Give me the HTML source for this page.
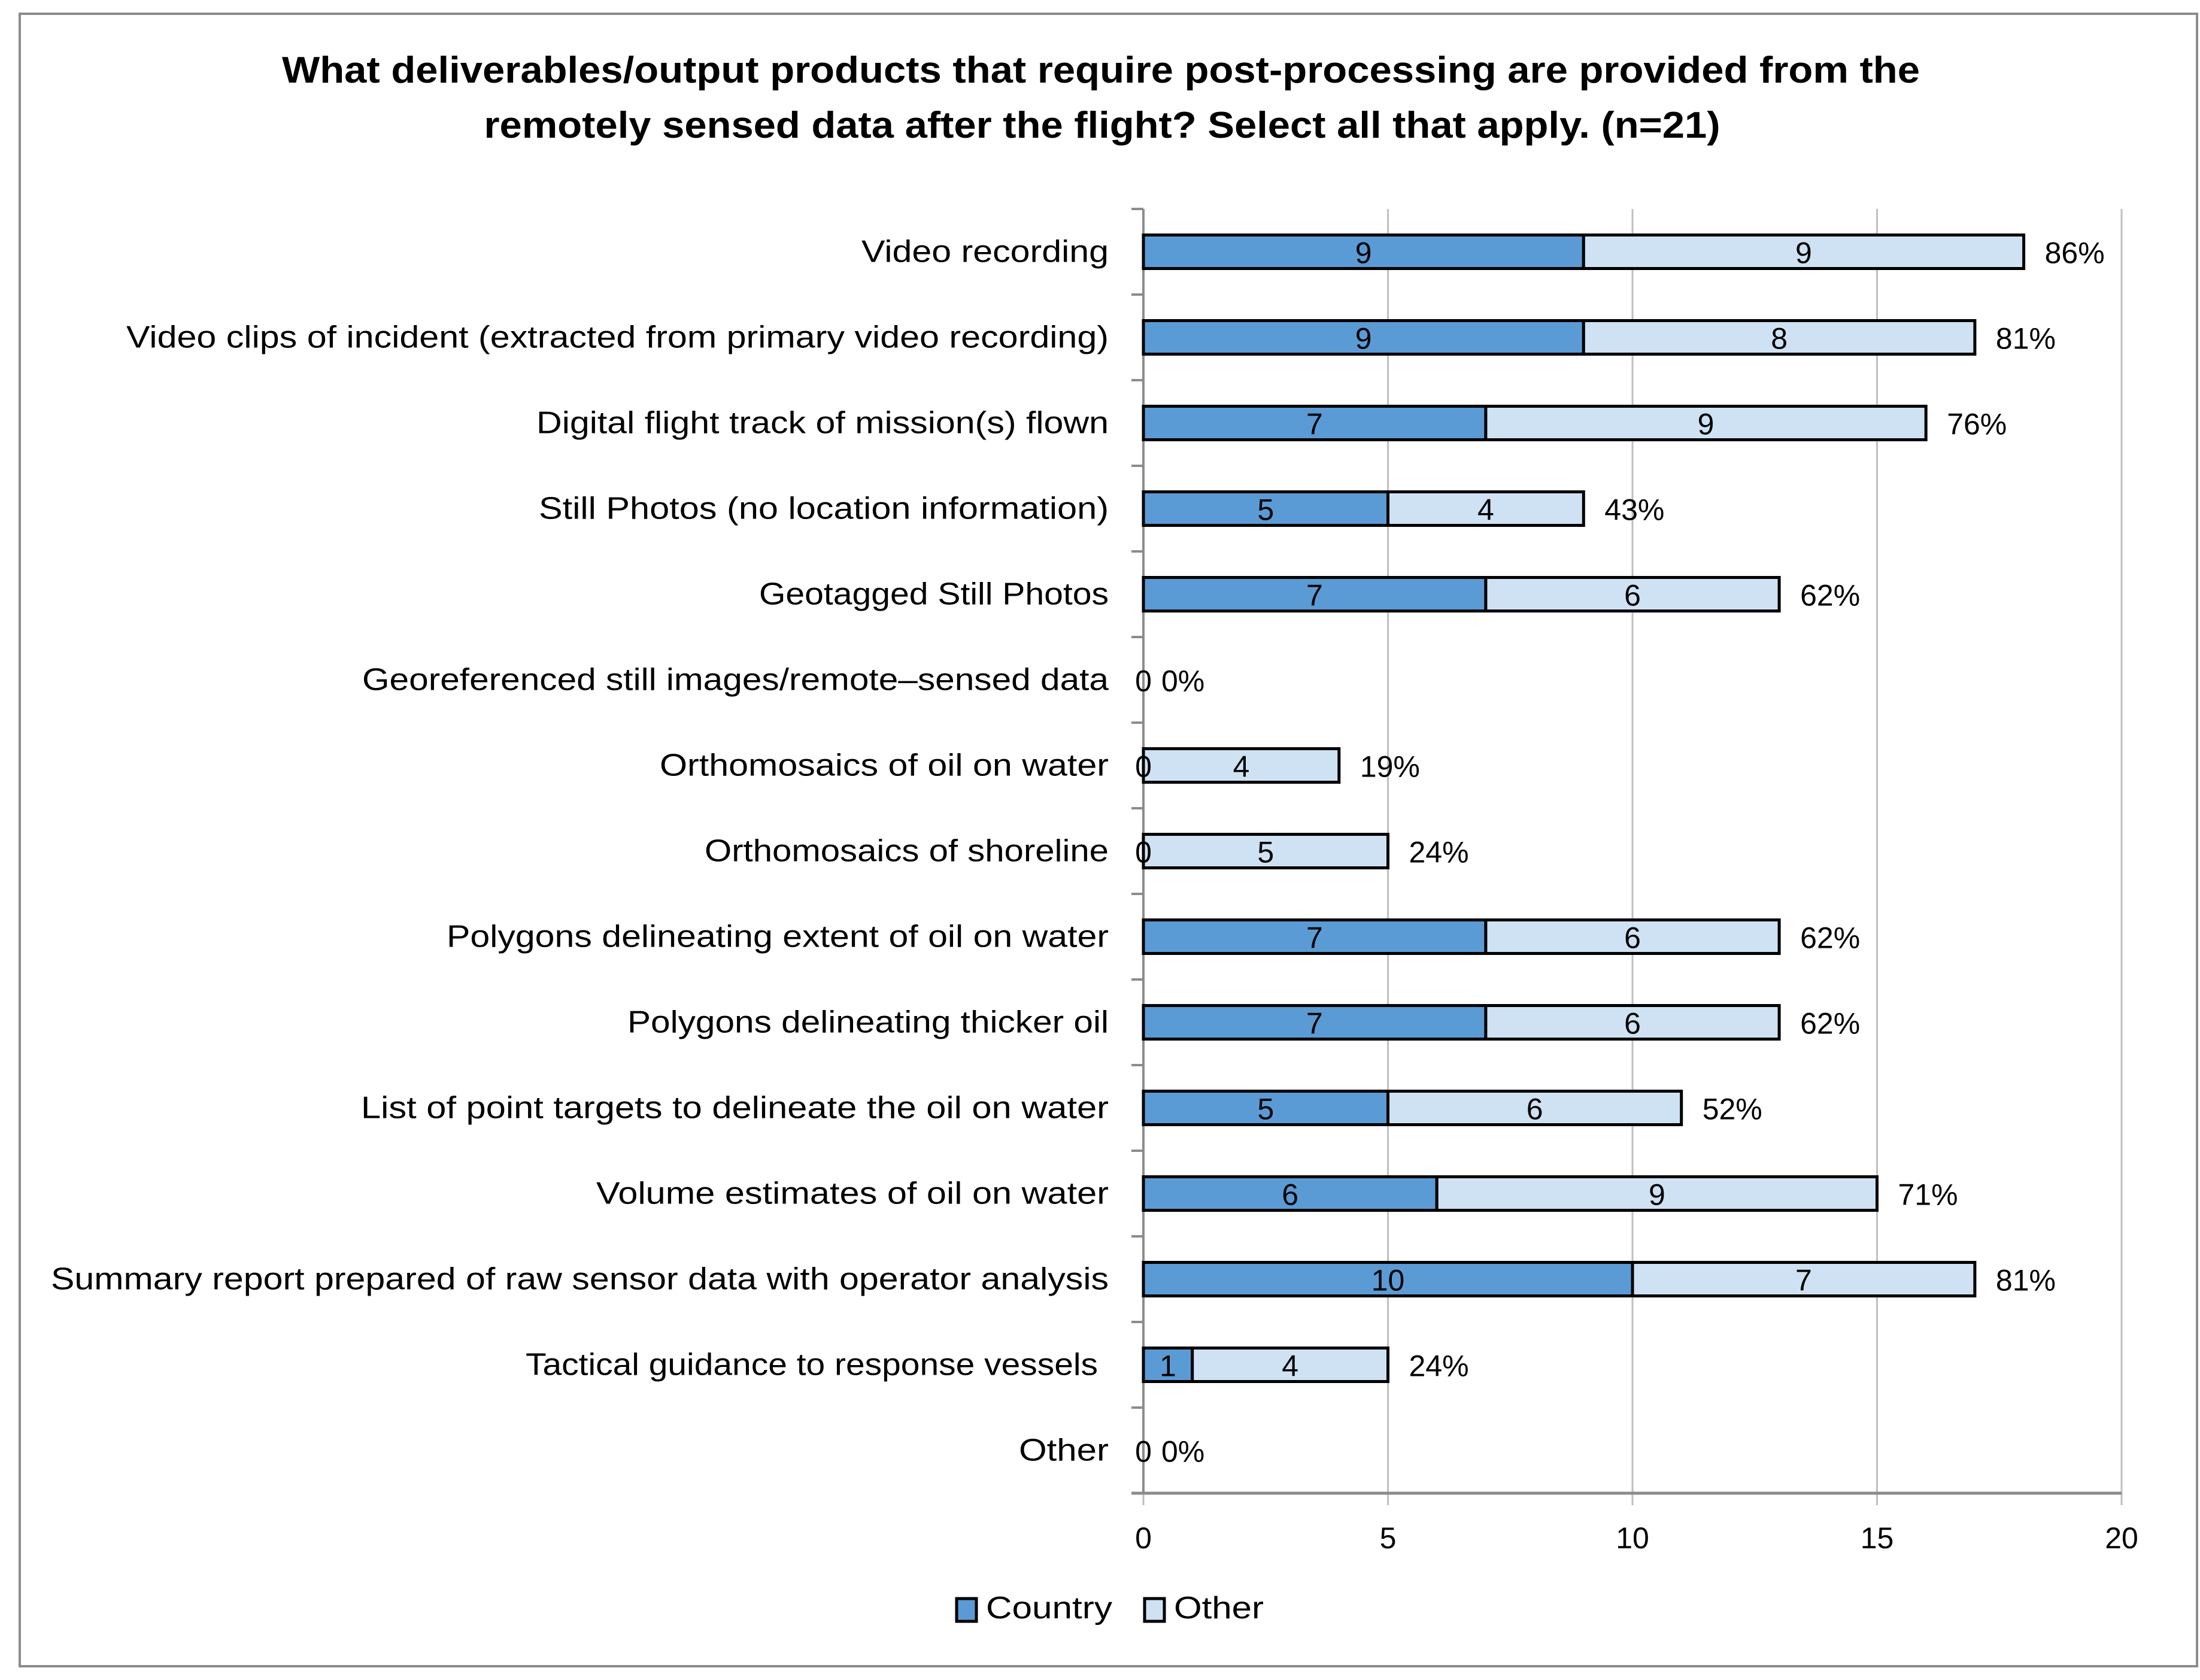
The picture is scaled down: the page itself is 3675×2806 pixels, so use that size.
<!DOCTYPE html>
<html><head><meta charset="utf-8"><style>
html,body{margin:0;padding:0;background:#fff;}
svg{display:block;font-family:"Liberation Sans",sans-serif;}
</style></head><body>
<svg id="chart" width="3675" height="2806" viewBox="0 0 3675 2806">
<rect x="33" y="23" width="3637" height="2760" fill="#fff" stroke="#8c8c8c" stroke-width="4"/>
<text x="1839" y="138" text-anchor="middle" font-size="62" font-weight="bold" textLength="2736" lengthAdjust="spacingAndGlyphs">What deliverables/output products that require post-processing are provided from the</text>
<text x="1841" y="230" text-anchor="middle" font-size="62" font-weight="bold" textLength="2065" lengthAdjust="spacingAndGlyphs">remotely sensed data after the flight? Select all that apply. (n=21)</text>
<g id="grid"></g><g id="bars"></g><g id="labels"></g>
<g>
<rect x="1598" y="2670" width="33" height="38" fill="#5B9BD5" stroke="#000" stroke-width="5"/>
<text x="1647" y="2703" font-size="52" textLength="211" lengthAdjust="spacingAndGlyphs">Country</text>
<rect x="1912" y="2670" width="33" height="38" fill="#CFE2F3" stroke="#000" stroke-width="5"/>
<text x="1961" y="2703" font-size="52" textLength="150" lengthAdjust="spacingAndGlyphs">Other</text>
</g>
</svg>
<script>
const categories=["Video recording","Video clips of incident (extracted from primary video recording)","Digital flight track of mission(s) flown","Still Photos (no location information)","Geotagged Still Photos","Georeferenced still images/remote\u2013sensed data","Orthomosaics of oil on water","Orthomosaics of shoreline","Polygons delineating extent of oil on water","Polygons delineating thicker oil","List of point targets to delineate the oil on water","Volume estimates of oil on water","Summary report prepared of raw sensor data with operator analysis","Tactical guidance to response vessels","Other"];
const countryValues=[9,9,7,5,7,0,0,0,7,7,5,6,10,1,0];
const otherValues=[9,8,9,4,6,0,4,5,6,6,6,9,7,4,0];
const percentLabels=["86%","81%","76%","43%","62%","0%","19%","24%","62%","62%","52%","71%","81%","24%","0%"];
const xTicks=[0,5,10,15,20];
const labelWidths=[413,1641,956,952,584,1247,750,675,1106,804,1249,856,1767,956,150];
const NS="http://www.w3.org/2000/svg";
const X0=1910,X1=3544,XMAX=20,Y0=349,Y1=2494;
const bandH=(Y1-Y0)/categories.length, barH=56;
function xs(v){return X0+(X1-X0)*v/XMAX;}
function yc(i){return Y0+bandH*(i+0.5);}
function mk(tag,attrs,parent,text){const e=document.createElementNS(NS,tag);for(const k in attrs)e.setAttribute(k,attrs[k]);if(text!==undefined)e.textContent=text;parent.appendChild(e);return e;}
const grid=document.getElementById('grid'),bars=document.getElementById('bars'),labels=document.getElementById('labels');
xTicks.forEach(t=>{
 const l=mk('line',{x1:xs(t),x2:xs(t),y1:Y0,y2:Y1+20,stroke:'#bfbfbf','stroke-width':3},grid);
 
 
 const tx=mk('text',{x:xs(t),y:2586,'text-anchor':'middle','font-size':50},grid,String(t));
 
 
});
const ax=mk('line',{x1:X0-20,x2:X1,y1:Y1,y2:Y1,stroke:'#8c8c8c','stroke-width':5},grid);


const ay=mk('line',{x1:X0,x2:X0,y1:Y0,y2:Y1,stroke:'#8c8c8c','stroke-width':4},grid);


for(let i=0;i<=categories.length;i++){
 const tk=mk('line',{x1:X0-20,x2:X0,y1:Y0+bandH*i,y2:Y0+bandH*i,stroke:'#8c8c8c','stroke-width':4},grid);
 
 
}
categories.forEach((c,i)=>{
 const y=yc(i), cv=countryValues[i], ov=otherValues[i];
 const right=(i===13)?1834:1852;
 const lab=mk('text',{x:right,y:y+17,'text-anchor':'end','font-size':52,textLength:labelWidths[i],lengthAdjust:'spacingAndGlyphs'},labels,c);
 
 
 if(cv>0){
  const r=mk('rect',{x:xs(0),y:y-barH/2,width:xs(cv)-xs(0),height:barH,fill:'#5B9BD5',stroke:'#000','stroke-width':5},bars);
  
  
 }
 if(ov>0){
  const r=mk('rect',{x:xs(cv),y:y-barH/2,width:xs(cv+ov)-xs(cv),height:barH,fill:'#CFE2F3',stroke:'#000','stroke-width':5},bars);
  
  
 }
 const cx=cv>0?(xs(0)+xs(cv))/2:xs(0);
 const t1=mk('text',{x:cx,y:y+19,'text-anchor':'middle','font-size':50},labels,String(cv));
 
 
 if(ov>0){
  const t2=mk('text',{x:(xs(cv)+xs(cv+ov))/2,y:y+19,'text-anchor':'middle','font-size':50},labels,String(ov));
  
  
 }
 const end=xs(cv+ov);
 const px=(cv+ov)>0?end+35:end+30;
 const t3=mk('text',{x:px,y:y+19,'font-size':50},labels,percentLabels[i]);
 
 
});
</script>
</body></html>
